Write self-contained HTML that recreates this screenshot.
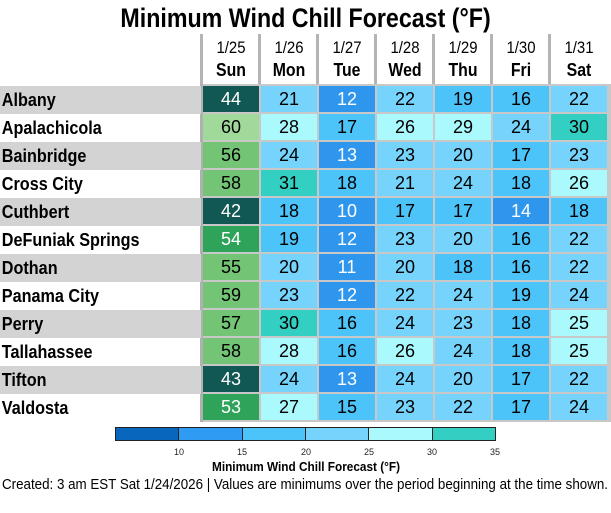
<!DOCTYPE html><html><head><style>
body{margin:0;width:611px;height:513px;background:#fff;position:relative;overflow:hidden;font-family:"Liberation Sans",sans-serif;}
.ab{position:absolute}
.t{left:0;width:611px;top:3px;text-align:center;font-weight:bold;font-size:27px;transform:scaleX(0.86);transform-origin:306px 0}
.vl{position:absolute;top:34px;height:52px;width:3px;background:#b4b4b4}
.hd{position:absolute;top:37px;width:56px;text-align:center;font-size:17px;line-height:22px}
.hd b{font-size:18px}
.hd div{transform:scaleX(0.88)}
.nm{position:absolute;left:0;width:201px;height:28px;line-height:28px;font-weight:bold;font-size:18px}
.nm i{font-style:normal;display:inline-block;padding-left:2px;transform:scaleX(0.9);transform-origin:0 0}
.g0{background:#d3d3d3}
.row{position:absolute;left:203px;height:26px;display:flex;gap:2px}
.row span{width:56px;height:26px;line-height:27px;text-align:center;font-size:18px}
.b{background:#2f96ee;color:#fff}.c{background:#4cc4fa}.d{background:#76d4fc}.e{background:#aaf9fd}.f{background:#33cfc2}
.g{background:#115753;color:#fff}.h{background:#2fa35a;color:#fff}.i{background:#74c476}.j{background:#a1d99b}
</style></head><body>
<div class="ab t">Minimum Wind Chill Forecast (°F)</div>
<div class="vl" style="left:200px"></div><div class="vl" style="left:258px"></div><div class="vl" style="left:316px"></div><div class="vl" style="left:374px"></div><div class="vl" style="left:432px"></div><div class="vl" style="left:490px"></div><div class="vl" style="left:548px"></div>
<div class="hd" style="left:203px"><div>1/25<br><b>Sun</b></div></div>
<div class="hd" style="left:261px"><div>1/26<br><b>Mon</b></div></div>
<div class="hd" style="left:319px"><div>1/27<br><b>Tue</b></div></div>
<div class="hd" style="left:377px"><div>1/28<br><b>Wed</b></div></div>
<div class="hd" style="left:435px"><div>1/29<br><b>Thu</b></div></div>
<div class="hd" style="left:493px"><div>1/30<br><b>Fri</b></div></div>
<div class="hd" style="left:551px"><div>1/31<br><b>Sat</b></div></div>
<div class="ab" style="left:200px;top:84px;width:411px;height:338px;background:#c8c8c8"></div>
<div class="ab" style="left:200px;top:84px;width:3px;height:338px;background:#b0b0b0"></div>
<div class="nm g0" style="top:86px"><i>Albany</i></div>
<div class="nm" style="top:114px"><i>Apalachicola</i></div>
<div class="nm g0" style="top:142px"><i>Bainbridge</i></div>
<div class="nm" style="top:170px"><i>Cross City</i></div>
<div class="nm g0" style="top:198px"><i>Cuthbert</i></div>
<div class="nm" style="top:226px"><i>DeFuniak Springs</i></div>
<div class="nm g0" style="top:254px"><i>Dothan</i></div>
<div class="nm" style="top:282px"><i>Panama City</i></div>
<div class="nm g0" style="top:310px"><i>Perry</i></div>
<div class="nm" style="top:338px"><i>Tallahassee</i></div>
<div class="nm g0" style="top:366px"><i>Tifton</i></div>
<div class="nm" style="top:394px"><i>Valdosta</i></div>
<div class="row" style="top:86px"><span class="g">44</span><span class="d">21</span><span class="b">12</span><span class="d">22</span><span class="c">19</span><span class="c">16</span><span class="d">22</span></div>
<div class="row" style="top:114px"><span class="j">60</span><span class="e">28</span><span class="c">17</span><span class="e">26</span><span class="e">29</span><span class="d">24</span><span class="f">30</span></div>
<div class="row" style="top:142px"><span class="i">56</span><span class="d">24</span><span class="b">13</span><span class="d">23</span><span class="d">20</span><span class="c">17</span><span class="d">23</span></div>
<div class="row" style="top:170px"><span class="i">58</span><span class="f">31</span><span class="c">18</span><span class="d">21</span><span class="d">24</span><span class="c">18</span><span class="e">26</span></div>
<div class="row" style="top:198px"><span class="g">42</span><span class="c">18</span><span class="b">10</span><span class="c">17</span><span class="c">17</span><span class="b">14</span><span class="c">18</span></div>
<div class="row" style="top:226px"><span class="h">54</span><span class="c">19</span><span class="b">12</span><span class="d">23</span><span class="d">20</span><span class="c">16</span><span class="d">22</span></div>
<div class="row" style="top:254px"><span class="i">55</span><span class="d">20</span><span class="b">11</span><span class="d">20</span><span class="c">18</span><span class="c">16</span><span class="d">22</span></div>
<div class="row" style="top:282px"><span class="i">59</span><span class="d">23</span><span class="b">12</span><span class="d">22</span><span class="d">24</span><span class="c">19</span><span class="d">24</span></div>
<div class="row" style="top:310px"><span class="i">57</span><span class="f">30</span><span class="c">16</span><span class="d">24</span><span class="d">23</span><span class="c">18</span><span class="e">25</span></div>
<div class="row" style="top:338px"><span class="i">58</span><span class="e">28</span><span class="c">16</span><span class="e">26</span><span class="d">24</span><span class="c">18</span><span class="e">25</span></div>
<div class="row" style="top:366px"><span class="g">43</span><span class="d">24</span><span class="b">13</span><span class="d">24</span><span class="d">20</span><span class="c">17</span><span class="d">22</span></div>
<div class="row" style="top:394px"><span class="h">53</span><span class="e">27</span><span class="c">15</span><span class="d">23</span><span class="d">22</span><span class="c">17</span><span class="d">24</span></div>
<svg class="ab" style="left:0;top:420px" width="611" height="93">
<g stroke="#222" stroke-width="1">
<rect x="115.5" y="7.5" width="63" height="13" fill="#0866bd"/>
<rect x="178.5" y="7.5" width="64" height="13" fill="#2f9bf3"/>
<rect x="242.5" y="7.5" width="63" height="13" fill="#4cc4fa"/>
<rect x="305.5" y="7.5" width="63" height="13" fill="#76d4fc"/>
<rect x="368.5" y="7.5" width="64" height="13" fill="#aaf9fd"/>
<rect x="432.5" y="7.5" width="63" height="13" fill="#33cfc2"/>
</g>
<g font-family="Liberation Sans" font-size="9" text-anchor="middle" fill="#222">
<text x="179" y="35">10</text><text x="242" y="35">15</text><text x="306" y="35">20</text><text x="369" y="35">25</text><text x="432" y="35">30</text><text x="495" y="35">35</text>
</g>
<text x="212" y="51" textLength="188" lengthAdjust="spacingAndGlyphs" font-family="Liberation Sans,sans-serif" font-weight="bold" font-size="13">Minimum Wind Chill Forecast (°F)</text>
<text x="2" y="69" textLength="606" lengthAdjust="spacingAndGlyphs" font-family="Liberation Sans,sans-serif" font-size="14.5">Created: 3 am EST Sat 1/24/2026  |  Values are minimums over the period beginning at the time shown.</text>
</svg>
</body></html>
